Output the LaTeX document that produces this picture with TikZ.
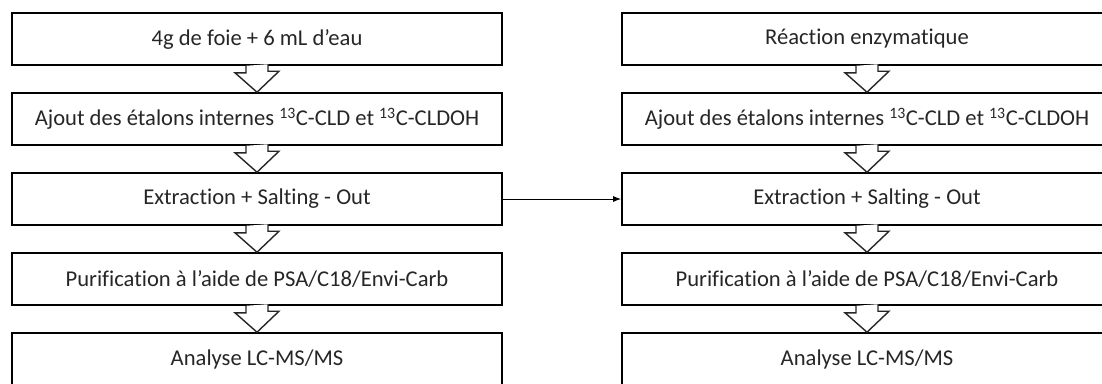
\documentclass[tikz,border=0pt]{standalone}
\usepackage{fontspec}
\setmainfont{Carlito}[Ligatures={NoCommon}]
\usetikzlibrary{arrows.meta,calc}
\begin{document}
\begin{tikzpicture}[x=1pt,y=-1pt,
  stepbox/.style={draw=black,line width=1.6pt,minimum width=490pt,minimum height=52pt,inner sep=0pt,anchor=center,font=\fontsize{22.6}{26}\selectfont,text=black!85},
  hollow/.style={draw=black!85,line width=1.4pt,line join=miter,fill=white},
  link/.style={draw=black,line width=1pt,-{Latex[length=8pt,width=6pt]}}]
\useasboundingbox (0,0) rectangle (1102,383);
% left column
\node[stepbox] (l1) at (257,39) {4g de foie + 6 mL d’eau};
\node[stepbox] (l2) at (257,119) {Ajout des étalons internes \textsuperscript{13}C-CLD et \textsuperscript{13}C-CLDOH};
\node[stepbox] (l3) at (257,199) {Extraction + Salting - Out};
\node[stepbox] (l4) at (257,279) {Purification à l’aide de PSA/C18/Envi-Carb};
\node[stepbox] (l5) at (257,359) {Analyse LC-MS/MS};
% right column
\node[stepbox] (r1) at (867,39) {Réaction enzymatique};
\node[stepbox] (r2) at (867,119) {Ajout des étalons internes \textsuperscript{13}C-CLD et \textsuperscript{13}C-CLDOH};
\node[stepbox] (r3) at (867,199) {Extraction + Salting - Out};
\node[stepbox] (r4) at (867,279) {Purification à l’aide de PSA/C18/Envi-Carb};
\node[stepbox] (r5) at (867,359) {Analyse LC-MS/MS};
% hollow down arrows
\foreach \a/\b in {l1/l2,l2/l3,l3/l4,l4/l5,r1/r2,r2/r3,r3/r4,r4/r5}{
  \draw[hollow] ($(\a.south)+(-11,0)$) -- ++(0,7) -- ++(-11,0) -- (\b.north) -- ++(22,-21) -- ++(-11,0) -- ++(0,-7);
}
% link between columns
\draw[link] (l3.east) -- (r3.west);
\end{tikzpicture}
\end{document}
